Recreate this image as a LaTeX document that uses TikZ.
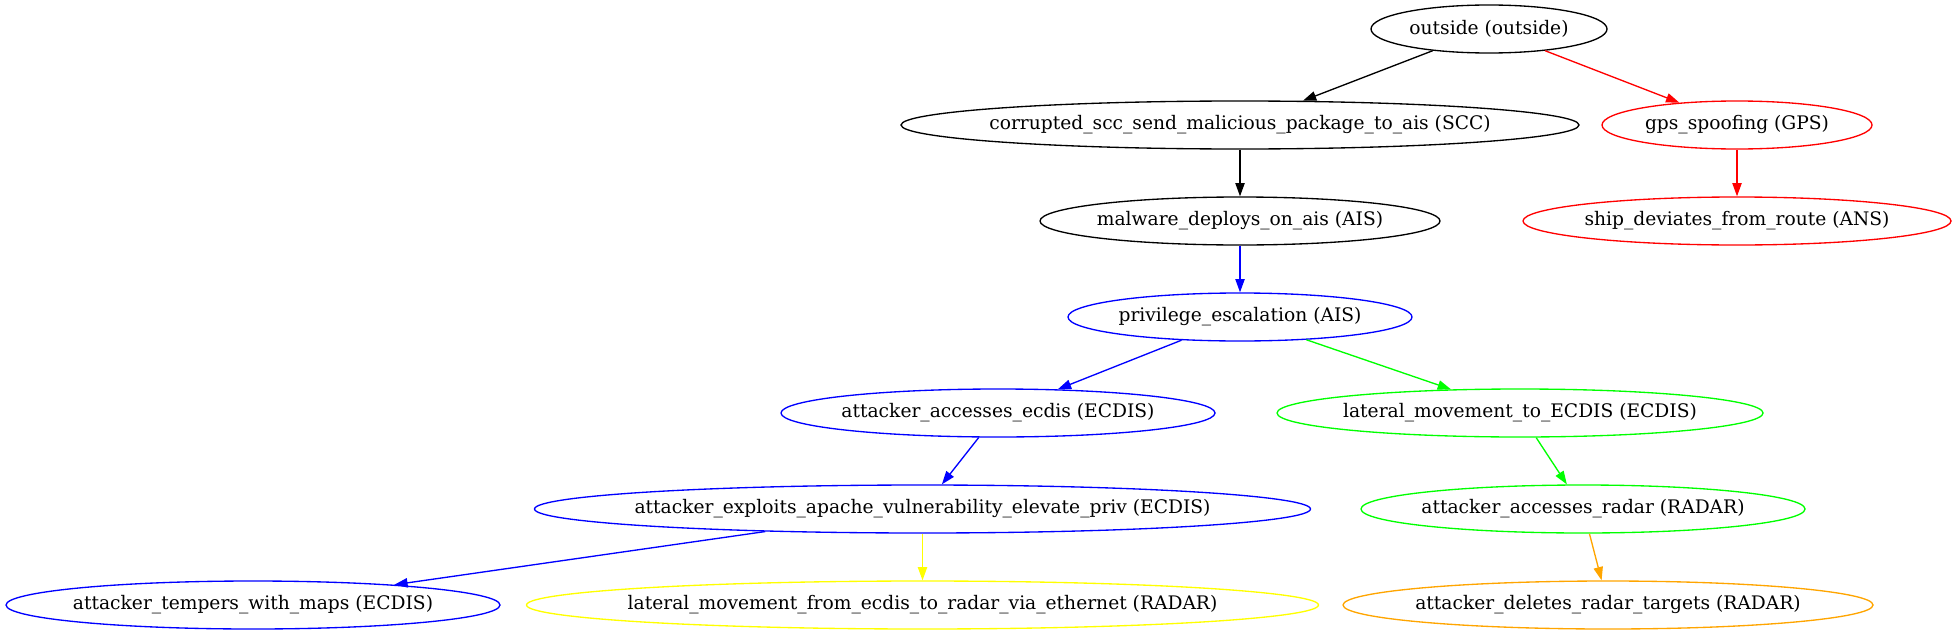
\documentclass[tikz,border=0pt]{standalone}
\usepackage{fontspec}
\setmainfont{DejaVu Serif}
\usetikzlibrary{shapes.geometric,arrows.meta}
\definecolor{gvorange}{HTML}{FFA500}
\definecolor{gvgreen}{HTML}{00FF00}
\definecolor{gvyellow}{HTML}{FFFF00}
\definecolor{gvblue}{HTML}{0000FF}
\definecolor{gvred}{HTML}{FF0000}
\newcommand{\lbl}[1]{\makebox[0pt]{#1}}
\begin{document}
\begin{tikzpicture}[x=0.75pt,y=-0.75pt,
  nd/.style={ellipse,draw,line width=1pt,minimum width=#1*1.5pt,minimum height=36pt,inner sep=0pt,font=\fontsize{14}{17}\selectfont,text=black},
  ed/.style={draw=#1,line width=1pt,-{Triangle[length=10pt,width=7pt]}}]
\useasboundingbox (0,0) rectangle (1954,635);
\node[nd=118] (outside) at (1489,29) {\lbl{outside (outside)}};
\node[nd=339] (scc) at (1240,125) {\lbl{corrupted\_scc\_send\_malicious\_package\_to\_ais (SCC)}};
\node[nd=135,draw=gvred] (gps) at (1737,125) {\lbl{gps\_spoofing (GPS)}};
\node[nd=200] (malware) at (1240,221) {\lbl{malware\_deploys\_on\_ais (AIS)}};
\node[nd=214,draw=gvred] (ship) at (1737,221) {\lbl{ship\_deviates\_from\_route (ANS)}};
\node[nd=172,draw=gvblue] (priv) at (1240,317) {\lbl{privilege\_escalation (AIS)}};
\node[nd=217,draw=gvblue] (ecdis) at (998,413) {\lbl{attacker\_accesses\_ecdis (ECDIS)}};
\node[nd=243,draw=gvgreen] (latto) at (1520,413) {\lbl{lateral\_movement\_to\_ECDIS (ECDIS)}};
\node[nd=388,draw=gvblue] (exploits) at (922.5,509) {\lbl{attacker\_exploits\_apache\_vulnerability\_elevate\_priv (ECDIS)}};
\node[nd=222,draw=gvgreen] (radar) at (1583,509) {\lbl{attacker\_accesses\_radar (RADAR)}};
\node[nd=247,draw=gvblue] (tempers) at (253,605) {\lbl{attacker\_tempers\_with\_maps (ECDIS)}};
\node[nd=396,draw=gvyellow] (latfrom) at (922.5,605) {\lbl{lateral\_movement\_from\_ecdis\_to\_radar\_via\_ethernet (RADAR)}};
\node[nd=265,draw=gvorange] (deletes) at (1608,605) {\lbl{attacker\_deletes\_radar\_targets (RADAR)}};
\draw[ed=black] (outside) -- (scc);
\draw[ed=gvred] (outside) -- (gps);
\draw[ed=black] (scc) -- (malware);
\draw[ed=gvred] (gps) -- (ship);
\draw[ed=gvblue] (malware) -- (priv);
\draw[ed=gvblue] (priv) -- (ecdis);
\draw[ed=gvgreen] (priv) -- (latto);
\draw[ed=gvblue] (ecdis) -- (exploits);
\draw[ed=gvgreen] (latto) -- (radar);
\draw[ed=gvblue] (exploits) -- (tempers);
\draw[ed=gvyellow] (exploits) -- (latfrom);
\draw[ed=gvorange] (radar) -- (deletes);
\end{tikzpicture}
\end{document}
